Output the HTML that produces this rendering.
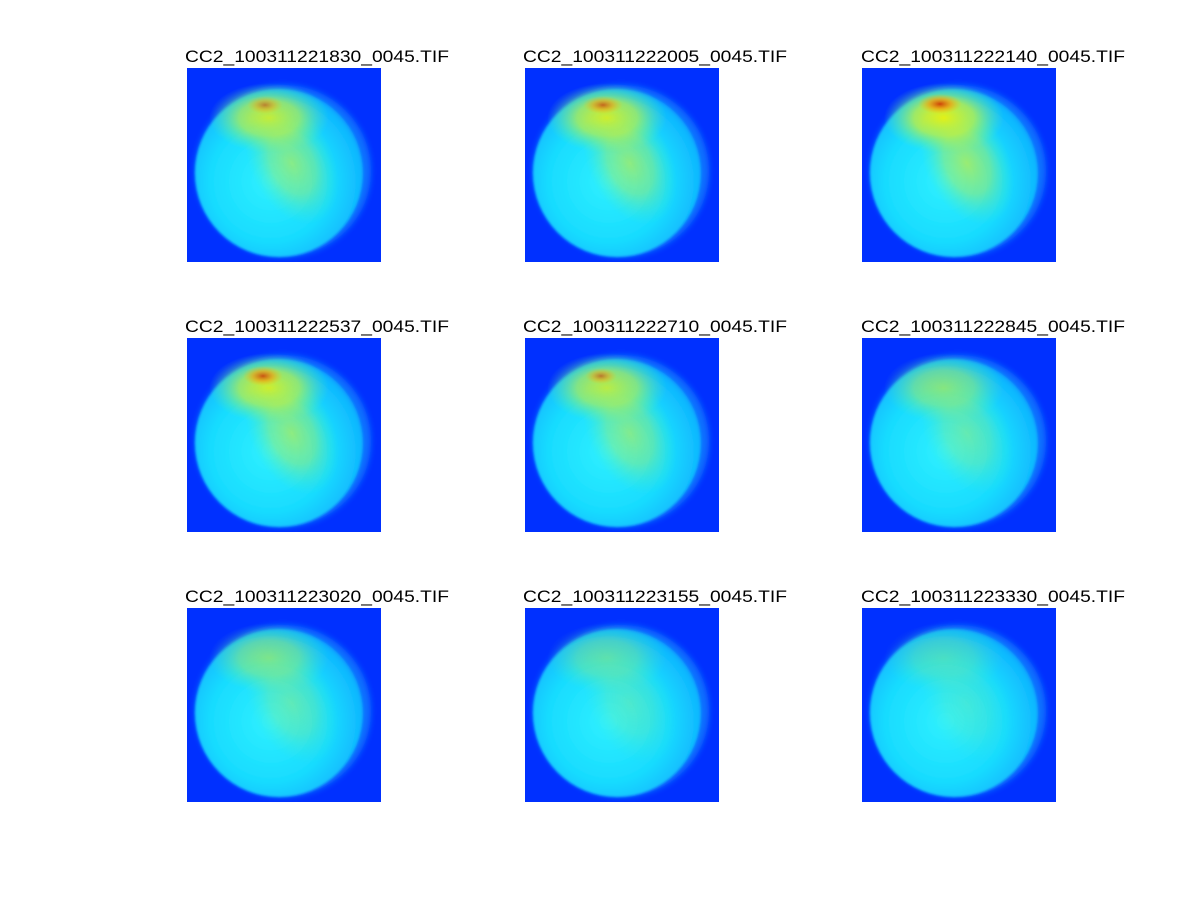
<!DOCTYPE html>
<html><head><style>
html,body{margin:0;padding:0;background:#fff;}
svg{display:block;}
text{font-family:"Liberation Sans",sans-serif;font-size:17px;fill:#000;}
</style></head><body>
<svg width="1201" height="901" viewBox="0 0 1201 901" xmlns="http://www.w3.org/2000/svg">
<defs>
<radialGradient id="disc" cx="0.45" cy="0.55" r="0.6">
<stop offset="0" stop-color="#30f0ff"/>
<stop offset="0.6" stop-color="#18dcff"/>
<stop offset="0.9" stop-color="#10b8ff"/>
<stop offset="1" stop-color="#0a90ff"/>
</radialGradient>
<radialGradient id="yel" cx="0.5" cy="0.5" r="0.5">
<stop offset="0" stop-color="#f8f000"/>
<stop offset="0.5" stop-color="#c0f040" stop-opacity="0.8"/>
<stop offset="1" stop-color="#60f0a0" stop-opacity="0"/>
</radialGradient>
<radialGradient id="red" cx="0.5" cy="0.5" r="0.5">
<stop offset="0" stop-color="#d03000"/>
<stop offset="0.5" stop-color="#ff9000" stop-opacity="0.7"/>
<stop offset="1" stop-color="#ffc000" stop-opacity="0"/>
</radialGradient>
<filter id="bl" x="-20%" y="-20%" width="140%" height="140%"><feGaussianBlur stdDeviation="3"/></filter>
<filter id="bl2" x="-20%" y="-20%" width="140%" height="140%"><feGaussianBlur stdDeviation="1.2"/></filter>
<g id="base">
<rect x="0" y="0" width="194" height="194" fill="#0030ff"/>
<ellipse cx="96" cy="103" rx="88" ry="86" fill="#1070ff" filter="url(#bl)"/>
<ellipse cx="92" cy="105" rx="84" ry="84" fill="url(#disc)" filter="url(#bl2)"/>
</g>
<g id="y">
<ellipse cx="82" cy="50" rx="60" ry="35" fill="url(#yel)"/>
<ellipse cx="105" cy="95" rx="42" ry="65" transform="rotate(-25 105 95)" fill="url(#yel)" opacity="0.55"/>
</g>
</defs>

<g transform="translate(187,68)"><use href="#base"/><use href="#y" opacity="0.85"/>
<ellipse cx="78" cy="37" rx="18" ry="9" fill="url(#red)" opacity="0.55"/></g>
<text x="185" y="62" textLength="264" lengthAdjust="spacingAndGlyphs">CC2_100311221830_0045.TIF</text>

<g transform="translate(525,68)"><use href="#base"/><use href="#y" opacity="0.9"/>
<ellipse cx="78" cy="37" rx="20" ry="9" fill="url(#red)" opacity="0.7"/></g>
<text x="523" y="62" textLength="264" lengthAdjust="spacingAndGlyphs">CC2_100311222005_0045.TIF</text>

<g transform="translate(862,68)"><use href="#base"/><use href="#y" opacity="1"/>
<ellipse cx="78" cy="36" rx="22" ry="10" fill="url(#red)" opacity="0.9"/></g>
<text x="861" y="62" textLength="264" lengthAdjust="spacingAndGlyphs">CC2_100311222140_0045.TIF</text>

<g transform="translate(187,338)"><use href="#base"/><use href="#y" opacity="0.9"/>
<ellipse cx="76" cy="38" rx="20" ry="10" fill="url(#red)" opacity="0.8"/></g>
<text x="185" y="332" textLength="264" lengthAdjust="spacingAndGlyphs">CC2_100311222537_0045.TIF</text>

<g transform="translate(525,338)"><use href="#base"/><use href="#y" opacity="0.8"/>
<ellipse cx="76" cy="38" rx="16" ry="8" fill="url(#red)" opacity="0.6"/></g>
<text x="523" y="332" textLength="264" lengthAdjust="spacingAndGlyphs">CC2_100311222710_0045.TIF</text>

<g transform="translate(862,338)"><use href="#base"/><use href="#y" opacity="0.55"/></g>
<text x="861" y="332" textLength="264" lengthAdjust="spacingAndGlyphs">CC2_100311222845_0045.TIF</text>

<g transform="translate(187,608)"><use href="#base"/><use href="#y" opacity="0.5"/></g>
<text x="185" y="602" textLength="264" lengthAdjust="spacingAndGlyphs">CC2_100311223020_0045.TIF</text>

<g transform="translate(525,608)"><use href="#base"/><use href="#y" opacity="0.35"/></g>
<text x="523" y="602" textLength="264" lengthAdjust="spacingAndGlyphs">CC2_100311223155_0045.TIF</text>

<g transform="translate(862,608)"><use href="#base"/><use href="#y" opacity="0.25"/></g>
<text x="861" y="602" textLength="264" lengthAdjust="spacingAndGlyphs">CC2_100311223330_0045.TIF</text>
</svg>
</body></html>
